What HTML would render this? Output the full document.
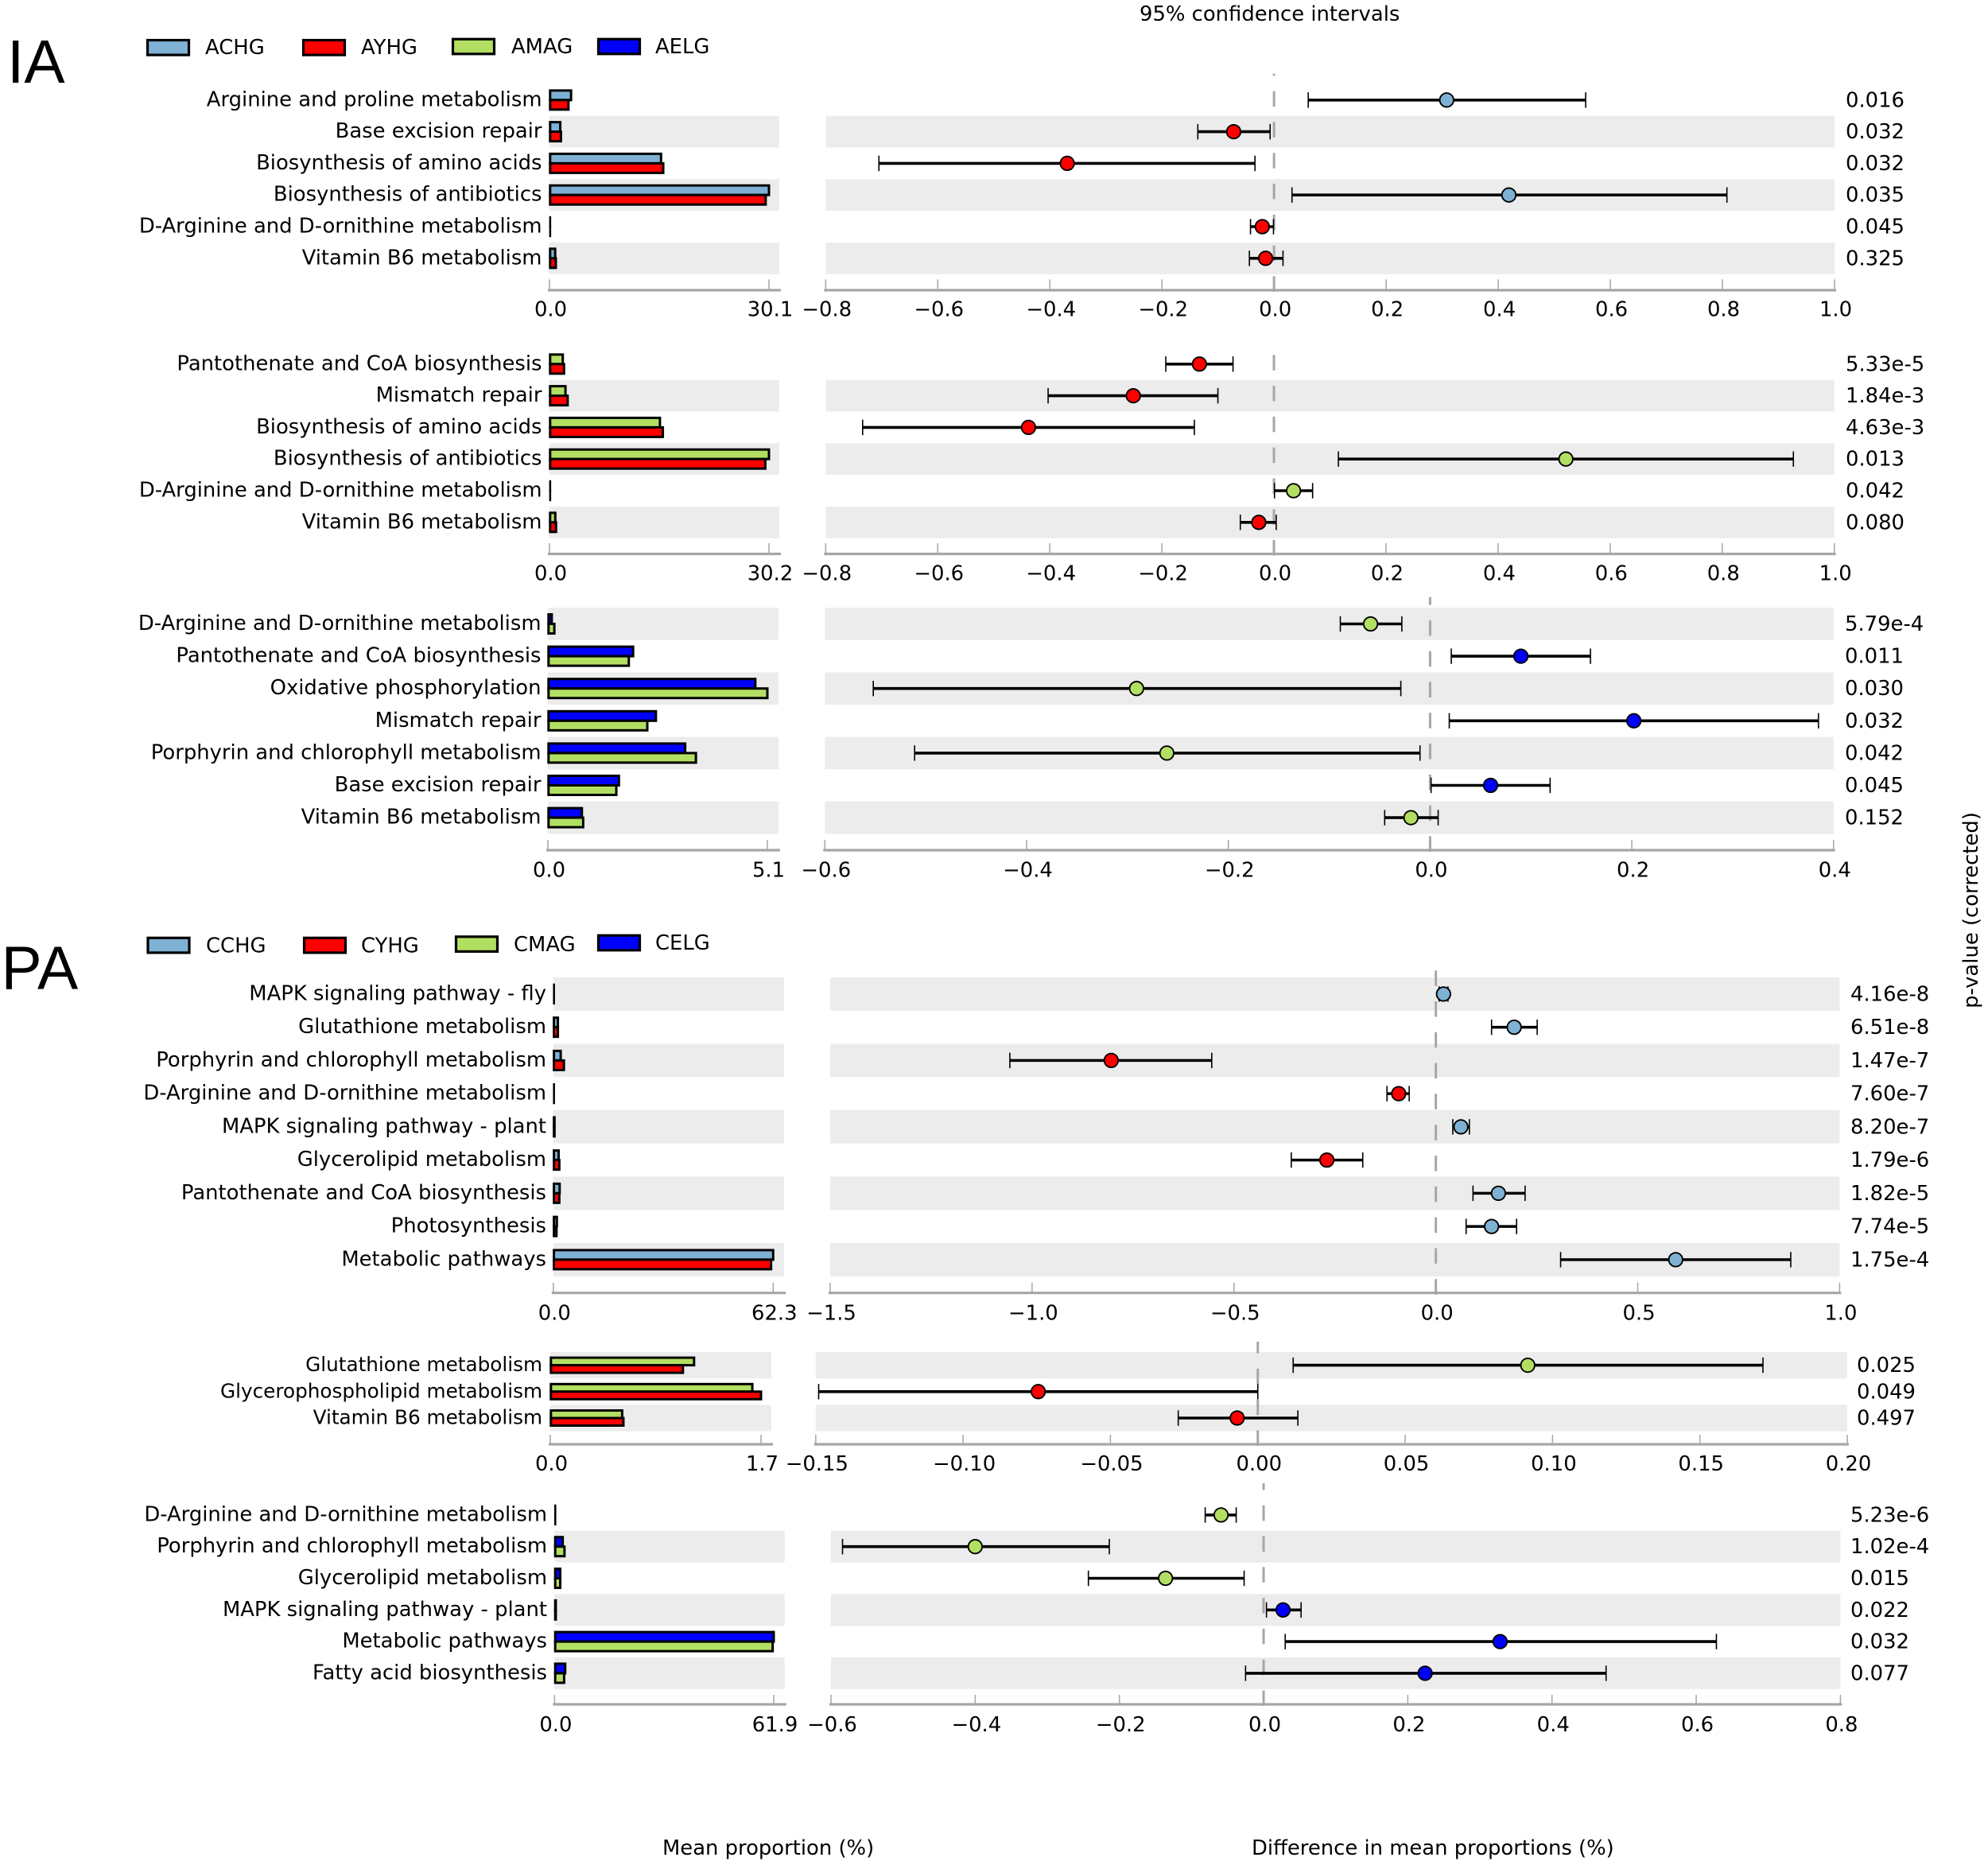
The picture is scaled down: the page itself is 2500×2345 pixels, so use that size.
<!DOCTYPE html>
<html lang="en">
<head>
<meta charset="utf-8">
<title>Extended error bar plots IA and PA</title>
<style>
html,body{margin:0;padding:0;background:#fff;}
svg{display:block;}
text{font-family:"DejaVu Sans","Liberation Sans",sans-serif;font-size:25.85px;fill:#000;}
text.big{font-family:"Liberation Sans",sans-serif;font-size:76.8px;}
</style>
</head>
<body>
<svg id="chart" xmlns="http://www.w3.org/2000/svg" width="2500" height="2345" viewBox="0 0 2500 2345">
  <rect x="0" y="0" width="2500" height="2345" fill="#ffffff"/>
  <text class="big" x="9" y="104">IA</text>
  <text class="big" x="1.5" y="1243.3">PA</text>
  <text x="1433" y="26">95% confidence intervals</text>

  <g>
    <rect x="185.5" y="50.5" width="52" height="18.6" fill="#7fb1d4" stroke="#000" stroke-width="3.2"/>
    <text x="258" y="68">ACHG</text>
    <rect x="381.5" y="50.5" width="52" height="18.6" fill="#ff0000" stroke="#000" stroke-width="3.2"/>
    <text x="454" y="68">AYHG</text>
    <rect x="569.5" y="49.2" width="52" height="18.6" fill="#b2df62" stroke="#000" stroke-width="3.2"/>
    <text x="643" y="67">AMAG</text>
    <rect x="752.5" y="49.2" width="52" height="18.6" fill="#0000ff" stroke="#000" stroke-width="3.2"/>
    <text x="824" y="67">AELG</text>
  </g>
  <g>
    <rect x="186" y="1179.3" width="52" height="18.6" fill="#7fb1d4" stroke="#000" stroke-width="3.2"/>
    <text x="259" y="1197.5">CCHG</text>
    <rect x="382.5" y="1179.3" width="52" height="18.6" fill="#ff0000" stroke="#000" stroke-width="3.2"/>
    <text x="454" y="1197.5">CYHG</text>
    <rect x="573.5" y="1177.8" width="52" height="18.6" fill="#b2df62" stroke="#000" stroke-width="3.2"/>
    <text x="646" y="1196">CMAG</text>
    <rect x="752.5" y="1176.2" width="52" height="18.6" fill="#0000ff" stroke="#000" stroke-width="3.2"/>
    <text x="824" y="1194">CELG</text>
  </g>

  <g id="panels"></g>

  <text x="833" y="2332">Mean proportion (%)</text>
  <text x="1574" y="2332">Difference in mean proportions (%)</text>
  <text transform="translate(2487 1144.5) rotate(-90)" text-anchor="middle">p-value (corrected)</text>
</svg>

<script>
/* ---------- Panel 1 (IA: ACHG vs AYHG) ---------- */
const p1Categories = ["Arginine and proline metabolism","Base excision repair","Biosynthesis of amino acids","Biosynthesis of antibiotics","D-Arginine and D-ornithine metabolism","Vitamin B6 metabolism"];
const p1SeriesA = [2.96,1.48,15.3,30.1,0.03,0.78];
const p1SeriesB = [2.6,1.57,15.6,29.65,0.03,0.87];
const p1Lower = [0.061,-0.136,-0.705,0.032,-0.042,-0.044];
const p1Diff = [0.308,-0.072,-0.369,0.419,-0.021,-0.015];
const p1Upper = [0.556,-0.007,-0.034,0.808,-0.001,0.016];
const p1PValues = ["0.016","0.032","0.032","0.035","0.045","0.325"];
const p1BarTicks = [0,30.1];
const p1DiffTicks = [-0.8,-0.6,-0.4,-0.2,0,0.2,0.4,0.6,0.8,1.0];

/* ---------- Panel 2 (IA: AMAG vs AYHG) ---------- */
const p2Categories = ["Pantothenate and CoA biosynthesis","Mismatch repair","Biosynthesis of amino acids","Biosynthesis of antibiotics","D-Arginine and D-ornithine metabolism","Vitamin B6 metabolism"];
const p2SeriesA = [1.83,2.2,15.2,30.2,0.03,0.8];
const p2SeriesB = [2.0,2.5,15.6,29.7,0.03,0.9];
const p2Lower = [-0.193,-0.403,-0.734,0.115,0.001,-0.060];
const p2Diff = [-0.133,-0.251,-0.438,0.521,0.035,-0.027];
const p2Upper = [-0.073,-0.100,-0.142,0.927,0.069,0.004];
const p2PValues = ["5.33e-5","1.84e-3","4.63e-3","0.013","0.042","0.080"];
const p2BarTicks = [0,30.2];
const p2DiffTicks = [-0.8,-0.6,-0.4,-0.2,0,0.2,0.4,0.6,0.8,1.0];

/* ---------- Panel 3 (IA: AELG vs AMAG) ---------- */
const p3Categories = ["D-Arginine and D-ornithine metabolism","Pantothenate and CoA biosynthesis","Oxidative phosphorylation","Mismatch repair","Porphyrin and chlorophyll metabolism","Base excision repair","Vitamin B6 metabolism"];
const p3SeriesA = [0.09,1.98,4.82,2.51,3.19,1.65,0.79];
const p3SeriesB = [0.15,1.88,5.1,2.31,3.44,1.59,0.82];
const p3Lower = [-0.089,0.021,-0.552,0.019,-0.511,0.001,-0.045];
const p3Diff = [-0.059,0.090,-0.291,0.202,-0.261,0.060,-0.019];
const p3Upper = [-0.028,0.159,-0.029,0.385,-0.010,0.119,0.008];
const p3PValues = ["5.79e-4","0.011","0.030","0.032","0.042","0.045","0.152"];
const p3BarTicks = [0,5.1];
const p3DiffTicks = [-0.6,-0.4,-0.2,0,0.2,0.4];

/* ---------- Panel 4 (PA: CCHG vs CYHG) ---------- */
const p4Categories = ["MAPK signaling pathway - fly","Glutathione metabolism","Porphyrin and chlorophyll metabolism","D-Arginine and D-ornithine metabolism","MAPK signaling pathway - plant","Glycerolipid metabolism","Pantothenate and CoA biosynthesis","Photosynthesis","Metabolic pathways"];
const p4SeriesA = [0.05,1.3,2.1,0.05,0.35,1.5,1.8,1.0,62.3];
const p4SeriesB = [0.05,1.3,3.0,0.05,0.35,1.7,1.7,0.9,61.7];
const p4Lower = [0.008,0.138,-1.055,-0.121,0.042,-0.358,0.092,0.075,0.309];
const p4Diff = [0.019,0.194,-0.804,-0.092,0.062,-0.270,0.155,0.138,0.594];
const p4Upper = [0.030,0.251,-0.555,-0.066,0.083,-0.181,0.221,0.200,0.879];
const p4PValues = ["4.16e-8","6.51e-8","1.47e-7","7.60e-7","8.20e-7","1.79e-6","1.82e-5","7.74e-5","1.75e-4"];
const p4BarTicks = [0,62.3];
const p4DiffTicks = [-1.5,-1.0,-0.5,0,0.5,1.0];

/* ---------- Panel 5 (PA: CMAG vs CYHG) ---------- */
const p5Categories = ["Glutathione metabolism","Glycerophospholipid metabolism","Vitamin B6 metabolism"];
const p5SeriesA = [1.16,1.63,0.58];
const p5SeriesB = [1.07,1.70,0.59];
const p5Lower = [0.012,-0.149,-0.027];
const p5Diff = [0.0916,-0.0745,-0.007];
const p5Upper = [0.1714,0,0.0136];
const p5PValues = ["0.025","0.049","0.497"];
const p5BarTicks = [0,1.7];
const p5DiffTicks = [-0.15,-0.10,-0.05,0,0.05,0.10,0.15,0.20];

/* ---------- Panel 6 (PA: CELG vs CMAG) ---------- */
const p6Categories = ["D-Arginine and D-ornithine metabolism","Porphyrin and chlorophyll metabolism","Glycerolipid metabolism","MAPK signaling pathway - plant","Metabolic pathways","Fatty acid biosynthesis"];
const p6SeriesA = [0.05,2.3,1.6,0.35,61.9,3.0];
const p6SeriesB = [0.05,2.8,1.6,0.35,61.6,2.7];
const p6Lower = [-0.081,-0.584,-0.243,0.004,0.030,-0.025];
const p6Diff = [-0.059,-0.400,-0.136,0.027,0.328,0.224];
const p6Upper = [-0.038,-0.214,-0.027,0.052,0.628,0.475];
const p6PValues = ["5.23e-6","1.02e-4","0.015","0.022","0.032","0.077"];
const p6BarTicks = [0,61.9];
const p6DiffTicks = [-0.6,-0.4,-0.2,0,0.2,0.4,0.6,0.8];

const COL_BLUEGREY = "#7fb1d4", COL_RED = "#ff0000", COL_GREEN = "#b2df62", COL_BLUE = "#0000ff";
const GRAY_BAND = "#ececec", AXIS_GRAY = "#a6a6a6";

const panels = [
 {id:"ia-1",cats:p1Categories,a:p1SeriesA,b:p1SeriesB,lo:p1Lower,mid:p1Diff,hi:p1Upper,pv:p1PValues,barTicks:p1BarTicks,diffTicks:p1DiffTicks,dec:1,
  colA:COL_BLUEGREY,colB:COL_RED,rowTop:105.9,rowH:39.8,bandFirst:false,axisY:364.9,tickTop:351.3,tickBase:397.6,dashTop:92.7,barH:12,catFont:25.85,
  barL:691,barTickR:967,barR:980,diffL:1038.3,diffR:2307,labelR:681.5,pX:2321},
 {id:"ia-2",cats:p2Categories,a:p2SeriesA,b:p2SeriesB,lo:p2Lower,mid:p2Diff,hi:p2Upper,pv:p2PValues,barTicks:p2BarTicks,diffTicks:p2DiffTicks,dec:1,
  colA:COL_GREEN,colB:COL_RED,rowTop:437.9,rowH:39.8,bandFirst:false,axisY:696.5,tickTop:683,tickBase:729.5,dashTop:445,barH:12,catFont:25.85,
  barL:691,barTickR:967,barR:980,diffL:1038.3,diffR:2306.7,labelR:681.5,pX:2321},
 {id:"ia-3",cats:p3Categories,a:p3SeriesA,b:p3SeriesB,lo:p3Lower,mid:p3Diff,hi:p3Upper,pv:p3PValues,barTicks:p3BarTicks,diffTicks:p3DiffTicks,dec:1,
  colA:COL_BLUE,colB:COL_GREEN,rowTop:764.2,rowH:40.6,bandFirst:true,axisY:1069,tickTop:1056,tickBase:1102.5,dashTop:750.8,barH:12,catFont:25.85,
  barL:689,barTickR:965,barR:979,diffL:1037.3,diffR:2305.8,labelR:680.5,pX:2320},
 {id:"pa-1",cats:p4Categories,a:p4SeriesA,b:p4SeriesB,lo:p4Lower,mid:p4Diff,hi:p4Upper,pv:p4PValues,barTicks:p4BarTicks,diffTicks:p4DiffTicks,dec:1,
  colA:COL_BLUEGREY,colB:COL_RED,rowTop:1229,rowH:41.75,bandFirst:true,axisY:1625.7,tickTop:1612.7,tickBase:1659.5,dashTop:1220,barH:12,catFont:25.85,
  barL:695.8,barTickR:972.3,barR:986,diffL:1044,diffR:2313.4,labelR:687,pX:2327},
 {id:"pa-2",cats:p5Categories,a:p5SeriesA,b:p5SeriesB,lo:p5Lower,mid:p5Diff,hi:p5Upper,pv:p5PValues,barTicks:p5BarTicks,diffTicks:p5DiffTicks,dec:2,
  colA:COL_GREEN,colB:COL_RED,rowTop:1700,rowH:33.2,bandFirst:true,axisY:1816,tickTop:1804,tickBase:1849,dashTop:1687,barH:9.5,catFont:24.7,
  barL:692,barTickR:957,barR:970,diffL:1025.8,diffR:2323,labelR:682,pX:2335},
 {id:"pa-3",cats:p6Categories,a:p6SeriesA,b:p6SeriesB,lo:p6Lower,mid:p6Diff,hi:p6Upper,pv:p6PValues,barTicks:p6BarTicks,diffTicks:p6DiffTicks,dec:1,
  colA:COL_BLUE,colB:COL_GREEN,rowTop:1885,rowH:39.8,bandFirst:false,axisY:2143,tickTop:2131,tickBase:2177,dashTop:1865,barH:12,catFont:25.85,
  barL:697.4,barTickR:973,barR:986.7,diffL:1045,diffR:2314.4,labelR:688,pX:2327}
];

const NS = "http://www.w3.org/2000/svg";
function mk(tag, attrs, parent, txt){
  const e = document.createElementNS(NS, tag);
  for (const k in attrs) e.setAttribute(k, attrs[k]);
  if (txt !== undefined) e.textContent = txt;
  parent.appendChild(e);
  return e;
}
function fmtTick(v, dec){
  return v.toFixed(dec).replace("-", "\u2212");
}

const root = document.getElementById("panels");

panels.forEach(function(P){
  const group = mk("g", {}, root);
  
  

  const barMax = P.barTicks[P.barTicks.length - 1];
  const barX = function(v){ return P.barL + (v / barMax) * (P.barTickR - P.barL); };
  const d0 = P.diffTicks[0], d1 = P.diffTicks[P.diffTicks.length - 1];
  const diffX = function(v){ return P.diffL + (v - d0) / (d1 - d0) * (P.diffR - P.diffL); };
  const rowC = function(i){ return P.rowTop + P.rowH * (i + 0.5); };
  const barH = P.barH;
  const barStroke = function(w){ return Math.min(3, 2.2 + w); };

  /* alternating bands */
  P.cats.forEach(function(c, i){
    const shaded = P.bandFirst ? (i % 2 === 0) : (i % 2 === 1);
    if (!shaded) return;
    const b1 = mk("rect", {x:P.barL, y:P.rowTop + P.rowH * i, width:P.barR - P.barL, height:P.rowH, fill:GRAY_BAND}, group);
    
    
    const b2 = mk("rect", {x:P.diffL, y:P.rowTop + P.rowH * i, width:P.diffR - P.diffL, height:P.rowH, fill:GRAY_BAND}, group);
    
    
  });

  /* bar axis */
  const ax1 = mk("line", {x1:P.barL - 2, x2:P.barR + 2, y1:P.axisY, y2:P.axisY, stroke:AXIS_GRAY, "stroke-width":3.2}, group);
  
  
  P.barTicks.forEach(function(t){
    const tk = mk("line", {x1:barX(t), x2:barX(t), y1:P.tickTop, y2:P.axisY, stroke:AXIS_GRAY, "stroke-width":1.5}, group);
    
    
    const tl = mk("text", {x:barX(t) + 1.5, y:P.tickBase, "text-anchor":"middle"}, group, t.toFixed(1));
    
    
  });

  /* diff axis */
  const ax2 = mk("line", {x1:P.diffL - 2, x2:P.diffR + 2, y1:P.axisY, y2:P.axisY, stroke:AXIS_GRAY, "stroke-width":3.2}, group);
  
  
  P.diffTicks.forEach(function(t){
    const tk = mk("line", {x1:diffX(t), x2:diffX(t), y1:P.tickTop, y2:P.axisY, stroke:AXIS_GRAY, "stroke-width":1.5}, group);
    
    
    const tl = mk("text", {x:diffX(t) + 1.5, y:P.tickBase, "text-anchor":"middle"}, group, fmtTick(t, P.dec));
    
    
  });

  /* dashed zero line, pattern starting from the axis going up */
  const zl = mk("line", {x1:diffX(0), x2:diffX(0), y1:P.axisY + 2, y2:P.dashTop, stroke:AXIS_GRAY, "stroke-width":3, "stroke-dasharray":"19.5 19.3"}, group);
  
  

  /* rows */
  P.cats.forEach(function(c, i){
    const cy = rowC(i);
    const lab = mk("text", {x:P.labelR, y:cy + 7.5, "text-anchor":"end", style:"font-size:" + P.catFont + "px"}, group, c);
    
    

    const wa = Math.max(barX(P.a[i]) - P.barL - 0.8, 0.15);
    const ba = mk("rect", {x:P.barL + 0.8, y:cy - barH, width:wa, height:barH, fill:P.colA, stroke:"#000", "stroke-width":barStroke(wa)}, group);
    
    
    const wb = Math.max(barX(P.b[i]) - P.barL - 0.8, 0.15);
    const bb = mk("rect", {x:P.barL + 0.8, y:cy, width:wb, height:barH, fill:P.colB, stroke:"#000", "stroke-width":barStroke(wb)}, group);
    
    

    const w = mk("line", {x1:diffX(P.lo[i]), x2:diffX(P.hi[i]), y1:cy, y2:cy, stroke:"#000", "stroke-width":3.6}, group);
    
    
    const c1 = mk("line", {x1:diffX(P.lo[i]), x2:diffX(P.lo[i]), y1:cy - 9.7, y2:cy + 9.7, stroke:"#000", "stroke-width":1.6}, group);
    
    
    const c2 = mk("line", {x1:diffX(P.hi[i]), x2:diffX(P.hi[i]), y1:cy - 9.7, y2:cy + 9.7, stroke:"#000", "stroke-width":1.6}, group);
    
    
    const m = mk("circle", {cx:diffX(P.mid[i]), cy:cy, r:8.7, fill:P.mid[i] >= 0 ? P.colA : P.colB, stroke:"#000", "stroke-width":1.9}, group);
    
    

    const pv = mk("text", {x:P.pX, y:cy + 8.5}, group, P.pv[i]);
    
    
  });
});
</script>
</body>
</html>
